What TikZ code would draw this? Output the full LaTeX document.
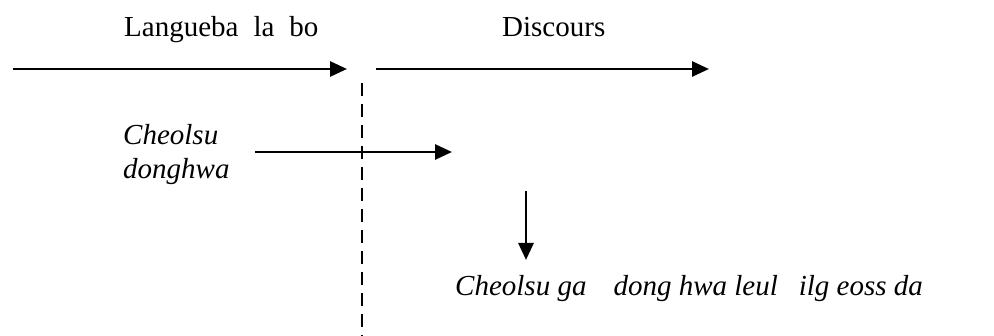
\documentclass[tikz,border=0pt]{standalone}
\usepackage{fontspec}
\setmainfont{Liberation Serif}
\usetikzlibrary{arrows.meta}
\begin{document}
\begin{tikzpicture}[x=1pt,y=-1pt,
  lbl/.style={inner sep=0pt,anchor=base west,font=\fontsize{29}{34}\selectfont},
  ilbl/.style={lbl,font=\fontsize{29}{34}\selectfont\itshape},
  arr/.style={line width=2.8pt,-{Triangle[length=17pt,width=15pt]}},
  sep/.style={line width=2pt,dash pattern=on 13pt off 8pt}]
\useasboundingbox (0,0) rectangle (994,336);
% labels
\node[lbl] (lang) at (124,37) {Langueba\hspace{15pt}la\hspace{15pt}bo};
\node[lbl] (disc) at (502,37) {Discours};
\node[ilbl] (cheol) at (123,145) {Cheolsu};
\node[ilbl] (dongh) at (123,179) {donghwa};
\node[ilbl] (sent) at (455,296) {Cheolsu ga\hspace{27pt}dong hwa leul\hspace{21pt}ilg eoss da};
% coordinates
\coordinate (a1s) at (13,69);
\coordinate (a1e) at (347,69);
\coordinate (a2s) at (376,69);
\coordinate (a2e) at (709,69);
\coordinate (ms) at (255,152);
\coordinate (me) at (452,152);
\coordinate (ds) at (526,191);
\coordinate (de) at (526,260);
\coordinate (vt) at (362,83);
\coordinate (vb) at (362,336);
% connectors
\draw[arr] (a1s) -- (a1e);
\draw[arr] (a2s) -- (a2e);
\draw[arr] (ms) -- (me);
\draw[arr] (ds) -- (de);
\draw[sep] (vt) -- (vb);
\end{tikzpicture}
\end{document}
